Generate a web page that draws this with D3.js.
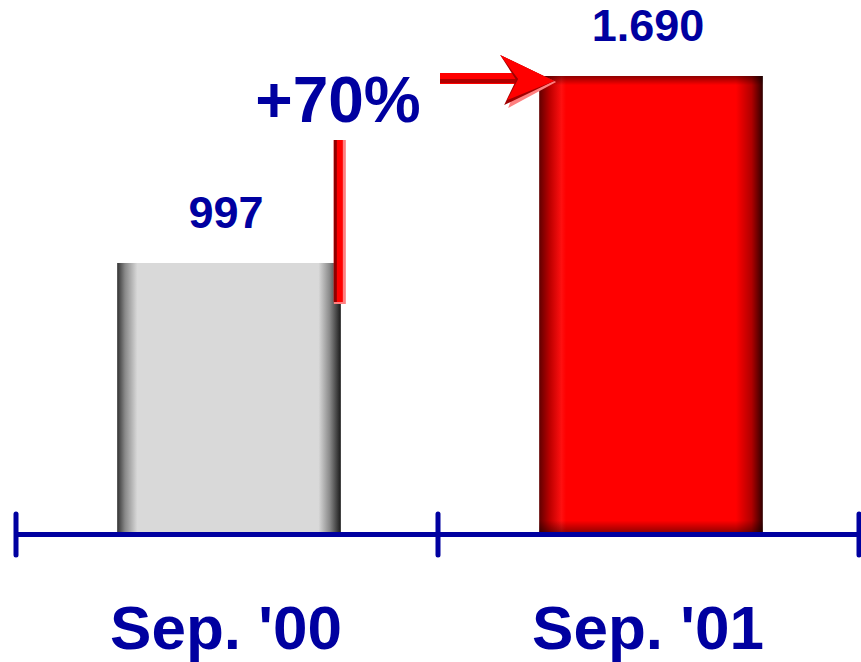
<!DOCTYPE html>
<html>
<head>
<meta charset="utf-8">
<script src="https://cdn.jsdelivr.net/npm/d3@7"></script>
<style>
html,body{margin:0;padding:0;background:#fff;}
svg{display:block;}
text{font-family:"Liberation Sans",Arial,sans-serif;font-weight:bold;fill:#0000a0;}
</style>
</head>
<body>
<svg id="chart" width="861" height="662"></svg>
<script>
const categories = ["Sep. '00", "Sep. '01"];
const values = [997, 1690];
const valueLabels = ["997", "1.690"];
const changeLabel = "+70%";

const W = 861, H = 662;
const svg = d3.select("#chart");
const baseY = 532;

const x = d3.scaleBand().domain(categories).range([18, 862]).paddingInner(0.47).paddingOuter(0.235);
const y = d3.scaleLinear().domain([0, 1690]).range([baseY, 76]);

const defs = svg.append("defs");
function hGrad(id, stops) {
  const g = defs.append("linearGradient").attr("id", id).attr("x1", 0).attr("x2", 1).attr("y1", 0).attr("y2", 0);
  stops.forEach(s => g.append("stop").attr("offset", s[0]).attr("stop-color", s[1]).attr("stop-opacity", s[2] == null ? 1 : s[2]));
}
function vGrad(id, stops) {
  const g = defs.append("linearGradient").attr("id", id).attr("x1", 0).attr("x2", 0).attr("y1", 0).attr("y2", 1);
  stops.forEach(s => g.append("stop").attr("offset", s[0]).attr("stop-color", s[1]).attr("stop-opacity", s[2] == null ? 1 : s[2]));
}
hGrad("gGray", [[0, "#333333"], [0.035, "#888888"], [0.09, "#d9d9d9"], [0.9, "#d9d9d9"], [0.95, "#8a8a8a"], [1, "#1a1a1a"]]);
hGrad("gRed", [[0, "#600000"], [0.05, "#c00000"], [0.1, "#ff1010"], [0.12, "#ff0000"], [0.88, "#ff0000"], [0.95, "#b00000"], [1, "#300000"]]);
vGrad("gRedV", [[0, "#000", 0.45], [0.02, "#000", 0.0], [0.975, "#000", 0.0], [1, "#000", 0.4]]);

const fills = ["url(#gGray)", "url(#gRed)"];

// bars
const bars = svg.append("g");
categories.forEach((c, i) => {
  bars.append("rect")
    .attr("x", x(c)).attr("y", y(values[i]))
    .attr("width", x.bandwidth()).attr("height", baseY - y(values[i]))
    .attr("fill", fills[i]);
  if (i === 1) {
    bars.append("rect")
      .attr("x", x(c)).attr("y", y(values[i]))
      .attr("width", x.bandwidth()).attr("height", baseY - y(values[i]))
      .attr("fill", "url(#gRedV)");
  }
});

// value labels
categories.forEach((c, i) => {
  svg.append("text")
    .attr("x", x(c) + x.bandwidth() / 2 - 3)
    .attr("y", y(values[i]) - 35)
    .attr("text-anchor", "middle")
    .attr("font-size", 45)
    .text(valueLabels[i]);
});

// axis
const axisG = svg.append("g");
axisG.append("line").attr("x1", 16).attr("x2", W).attr("y1", 534.5).attr("y2", 534.5)
  .attr("stroke", "#0000a0").attr("stroke-width", 5);
const tickXs = [
  x(categories[0]) - x.step() * x.paddingOuter() - 2,
  x(categories[0]) + x.bandwidth() + x.step() * x.paddingInner() / 2 - 2,
  859
];
tickXs.forEach(tx => {
  axisG.append("line").attr("x1", tx).attr("x2", tx).attr("y1", 514).attr("y2", 555)
    .attr("stroke", "#0000a0").attr("stroke-width", 5).attr("stroke-linecap", "round");
});

// category labels
categories.forEach((c, i) => {
  svg.append("text")
    .attr("x", x(c) + x.bandwidth() / 2 - 3)
    .attr("y", 649)
    .attr("text-anchor", "middle")
    .attr("font-size", 62)
    .text(c);
});

// change annotation: vertical line
const vx = x(categories[0]) + x.bandwidth() - 7;
const vTop = 140, vBot = y(values[0]) + 41;
const ann = svg.append("g");
ann.append("rect").attr("x", vx).attr("y", vTop).attr("width", 12).attr("height", vBot - vTop).attr("fill", "#ff8080");
ann.append("rect").attr("x", vx).attr("y", vTop).attr("width", 9).attr("height", vBot - vTop - 2).attr("fill", "#ff0000");
ann.append("rect").attr("x", vx).attr("y", vTop).attr("width", 3).attr("height", vBot - vTop - 2).attr("fill", "#900000");

// horizontal arrow to the top of the second bar
const ax0 = tickXs[1] + 2;
const tipX = x(categories[1]) + 15, tipY = y(values[1]) + 6;
const ay = tipY - 2;
ann.append("rect").attr("x", ax0).attr("y", ay - 7).attr("width", 85).attr("height", 11).attr("fill", "#ff0000");
ann.append("rect").attr("x", ax0).attr("y", ay - 1).attr("width", 85).attr("height", 4).attr("fill", "#b00000");
ann.append("path")
  .attr("d", `M${tipX - 52},${tipY - 26} L${tipX + 2},${tipY} L${tipX - 46},${tipY + 26} L${tipX - 36},${tipY - 1} Z`)
  .attr("fill", "#ff8080");
ann.append("path")
  .attr("d", `M${tipX - 54},${tipY - 27} L${tipX},${tipY - 1} L${tipX - 50},${tipY + 23} L${tipX - 38},${tipY - 2} Z`)
  .attr("fill", "#a00000");
ann.append("path")
  .attr("d", `M${tipX - 54},${tipY - 27} L${tipX},${tipY - 1} L${tipX - 47},${tipY + 18} L${tipX - 36},${tipY - 3} Z`)
  .attr("fill", "#ff0000");

// percent label
svg.append("text")
  .attr("x", 338).attr("y", 122)
  .attr("text-anchor", "middle")
  .attr("font-size", 64)
  .text(changeLabel);
</script>
</body>
</html>
